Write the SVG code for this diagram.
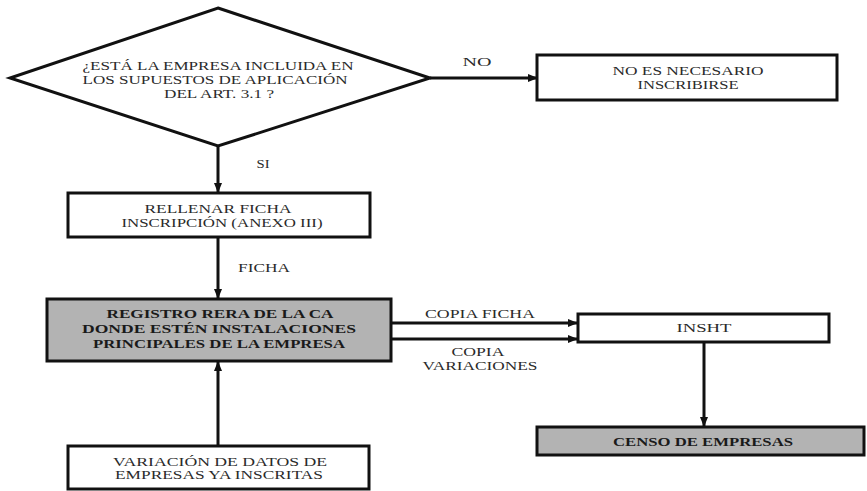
<svg xmlns="http://www.w3.org/2000/svg" width="867" height="491" viewBox="0 0 867 491">
<style>
.box{fill:#fff;stroke:#111;stroke-width:3}
.grey{fill:#b3b3b3;stroke:#111;stroke-width:3}
.t{font-family:"Liberation Serif","Times New Roman",serif;font-size:12px;fill:#2a2a2a;text-anchor:middle}
.b{font-weight:bold;fill:#1a1a1a}
.c{fill:none;stroke:#111;stroke-width:3}
</style>
<defs>
<marker id="ah" markerUnits="userSpaceOnUse" markerWidth="10" markerHeight="10" refX="9" refY="5" orient="auto">
<path d="M0,1 L10,5 L0,9 Z" fill="#111"/>
</marker>
</defs>
<rect width="867" height="491" fill="#fff"/>
<g id="connectors">
<line class="c" x1="430" y1="78" x2="537" y2="78" marker-end="url(#ah)"/>
<line class="c" x1="218" y1="146" x2="218" y2="192" marker-end="url(#ah)"/>
<line class="c" x1="218" y1="237" x2="218" y2="298" marker-end="url(#ah)"/>
<line class="c" x1="218" y1="446" x2="218" y2="362" marker-end="url(#ah)"/>
<line class="c" x1="391" y1="323" x2="577" y2="323" marker-end="url(#ah)"/>
<line class="c" x1="391" y1="339" x2="577" y2="339" marker-end="url(#ah)"/>
<line class="c" x1="704" y1="342" x2="704" y2="426" marker-end="url(#ah)"/>
<text class="t" x="477" y="65.5" textLength="29" lengthAdjust="spacingAndGlyphs">NO</text>
<text class="t" x="263" y="167.5" textLength="13" lengthAdjust="spacingAndGlyphs">SI</text>
<text class="t" x="264" y="271.5" textLength="52" lengthAdjust="spacingAndGlyphs">FICHA</text>
<text class="t" x="480" y="317.5" textLength="110" lengthAdjust="spacingAndGlyphs">COPIA FICHA</text>
<text class="t" x="478" y="356" textLength="53" lengthAdjust="spacingAndGlyphs">COPIA</text>
<text class="t" x="480" y="369.5" textLength="115" lengthAdjust="spacingAndGlyphs">VARIACIONES</text>
</g>
<g id="decision">
<polygon class="box" points="218,8 430,78 218,146 10,78"/>
<text class="t" x="218" y="69.5" textLength="271" lengthAdjust="spacingAndGlyphs">¿ESTÁ LA EMPRESA INCLUIDA EN</text>
<text class="t" x="215" y="83.5" textLength="265" lengthAdjust="spacingAndGlyphs">LOS SUPUESTOS DE APLICACIÓN</text>
<text class="t" x="219" y="97.5" textLength="110" lengthAdjust="spacingAndGlyphs">DEL ART. 3.1 ?</text>
</g>
<g id="no-necesario">
<rect class="box" x="537" y="55" width="300" height="45"/>
<text class="t" x="688" y="74.5" textLength="151" lengthAdjust="spacingAndGlyphs">NO ES NECESARIO</text>
<text class="t" x="688" y="88.5" textLength="101" lengthAdjust="spacingAndGlyphs">INSCRIBIRSE</text>
</g>
<g id="rellenar">
<rect class="box" x="68" y="193" width="302" height="44"/>
<text class="t" x="218" y="213" textLength="147" lengthAdjust="spacingAndGlyphs">RELLENAR FICHA</text>
<text class="t" x="222" y="226.5" textLength="201" lengthAdjust="spacingAndGlyphs">INSCRIPCIÓN (ANEXO III)</text>
</g>
<g id="registro">
<rect class="grey" x="47" y="299" width="344" height="62"/>
<text class="t b" x="220" y="317.5" textLength="227" lengthAdjust="spacingAndGlyphs">REGISTRO RERA DE LA CA</text>
<text class="t b" x="219" y="332.5" textLength="274" lengthAdjust="spacingAndGlyphs">DONDE ESTÉN INSTALACIONES</text>
<text class="t b" x="219" y="347.5" textLength="252" lengthAdjust="spacingAndGlyphs">PRINCIPALES DE LA EMPRESA</text>
</g>
<g id="variacion">
<rect class="box" x="68" y="446" width="301" height="43"/>
<text class="t" x="220" y="465.5" textLength="214" lengthAdjust="spacingAndGlyphs">VARIACIÓN DE DATOS DE</text>
<text class="t" x="219" y="479" textLength="208" lengthAdjust="spacingAndGlyphs">EMPRESAS YA INSCRITAS</text>
</g>
<g id="insht">
<rect class="box" x="578" y="314" width="251" height="28"/>
<text class="t" x="704" y="331.5" textLength="55" lengthAdjust="spacingAndGlyphs">INSHT</text>
</g>
<g id="censo">
<rect class="grey" x="537" y="427" width="327" height="28"/>
<text class="t b" x="703" y="445.5" textLength="180" lengthAdjust="spacingAndGlyphs">CENSO DE EMPRESAS</text>
</g>
</svg>
